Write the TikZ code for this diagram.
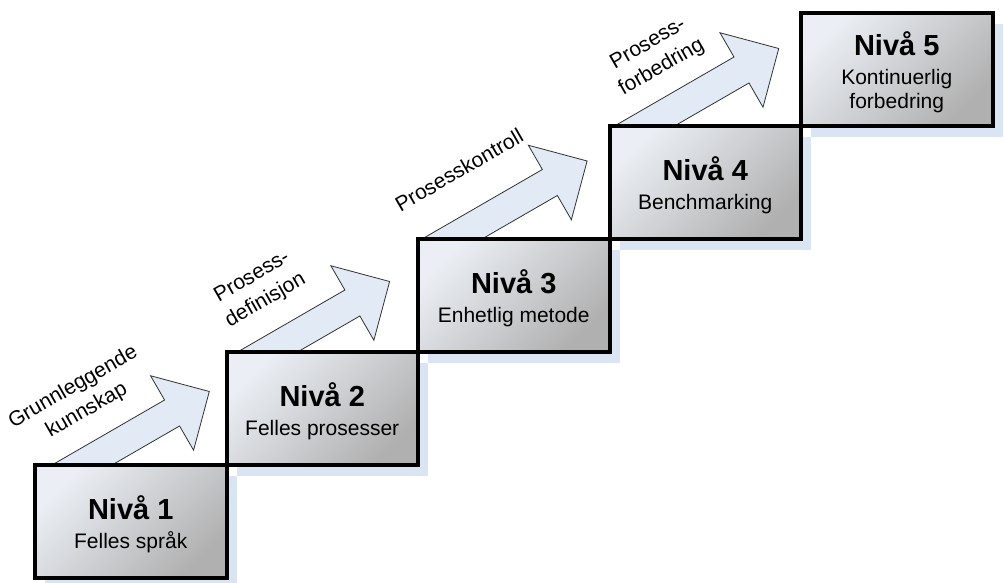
\documentclass[tikz,border=0pt]{standalone}
\usepackage{fontspec}
\setmainfont{Liberation Sans}
\usetikzlibrary{positioning,calc,shadows,backgrounds}

\definecolor{stepLight}{RGB}{235,239,245}
\definecolor{stepDark}{RGB}{176,176,176}
\definecolor{stepShadow}{RGB}{205,220,240}
\definecolor{arrowFill}{RGB}{226,234,246}
\definecolor{arrowLine}{RGB}{50,50,50}

\tikzset{
  niva/.style={draw=black, line width=4pt, minimum width=191.5pt, minimum height=113pt,
    inner sep=0pt, outer sep=0pt, top color=stepLight, bottom color=stepDark, shading angle=45,
    align=center, font=\fontsize{21}{24}\selectfont,
    drop shadow={shadow xshift=10pt, shadow yshift=-11pt, fill=stepShadow, opacity=0.75}},
  stepArrow/.style={draw=arrowLine, line width=0.8pt, fill=arrowFill},
  stepLabel/.style={rotate=30, align=center, font=\fontsize{21}{27}\selectfont}
}
\newcommand{\nivtitle}[1]{{\fontsize{29}{32}\selectfont\bfseries\rule{0pt}{29pt}Nivå #1}\\[5pt]}

\begin{document}
\begin{tikzpicture}[x=1pt, y=1pt]
  \useasboundingbox (0,0) rectangle (1004,582);
  % Steps of the staircase
  \node[niva] (niva1) at (130.75,60.5) {\nivtitle{1}Felles språk};
  \node[niva, above right=0pt and 0pt of niva1] (niva2) {\nivtitle{2}Felles prosesser};
  \node[niva, above right=0pt and 0pt of niva2] (niva3) {\nivtitle{3}Enhetlig metode};
  \node[niva, above right=0pt and 0pt of niva3] (niva4) {\nivtitle{4}Benchmarking};
  \node[niva, above right=0pt and 0pt of niva4] (niva5) {\nivtitle{5}Kontinuerlig\\forbedring};
  % Block arrows from one step to the next
  \begin{scope}[on background layer]
    \foreach \k/\off/\len in {1/47/147, 2/41/141, 3/34/156, 4/35/155}{
      \draw[stepArrow, shift={($(niva\k.north west)+(\off,0)$)}, rotate=30]
        (-26,15) -- ({\len-43},15) -- ({\len-43},43) -- (\len,0)
        -- ({\len-43},-43) -- ({\len-43},-15) -- (26,-15) -- cycle;
    }
  \end{scope}
  % Arrow labels
  \node[stepLabel] (lab1) at (80,183) {Grunnleggende\\kunnskap};
  \node[stepLabel] (lab2) at (259,293) {Prosess-\\definisjon};
  \node[stepLabel] (lab3) at (459,412) {Prosesskontroll};
  \node[stepLabel] (lab4) at (655,526) {Prosess-\\forbedring};
\end{tikzpicture}
\end{document}
